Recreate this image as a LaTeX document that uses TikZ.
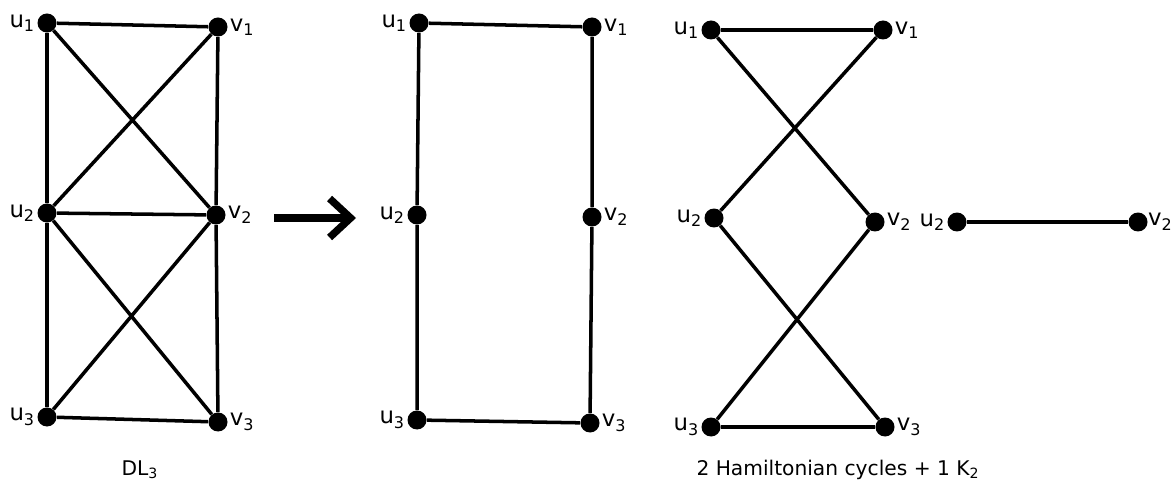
\documentclass[tikz,border=0pt]{standalone}
\usepackage{fontspec}
\setmainfont{DejaVu Sans}
\usetikzlibrary{arrows.meta}
\tikzset{
  vtx/.style={circle, fill=black, inner sep=0pt, minimum size=0.38cm},
  edg/.style={line width=2pt, draw=black},
  vlbl/.style={font=\fontsize{13}{15}\selectfont, inner sep=1pt},
  caption/.style={font=\fontsize{11.5}{14}\selectfont},
  bigarrow/.style={-{Straight Barb[length=0.42cm, width=0.78cm]}, line width=4.2pt},
}
\newcommand{\vname}[2]{#1\textsubscript{#2}}

\begin{document}
\begin{tikzpicture}[x=0.02cm, y=-0.02cm]
  \useasboundingbox (0,0) rectangle (1172,496);
  % DL_3
  \node[vtx, label={[vlbl]left:\vname{u}{1}}]  (au1) at (47,23)  {};
  \node[vtx, label={[vlbl]right:\vname{v}{1}}] (av1) at (218,27) {};
  \node[vtx, label={[vlbl]left:\vname{u}{2}}]  (au2) at (47,213) {};
  \node[vtx, label={[vlbl]right:\vname{v}{2}}] (av2) at (216,215) {};
  \node[vtx, label={[vlbl]left:\vname{u}{3}}]  (au3) at (47,417) {};
  \node[vtx, label={[vlbl]right:\vname{v}{3}}] (av3) at (218,422) {};
  \draw[edg] (au1) -- (av1) (au2) -- (av2) (au3) -- (av3);
  \draw[edg] (au1) -- (au2) -- (au3) (av1) -- (av2) -- (av3);
  \draw[edg] (au1) -- (av2) (av1) -- (au2) (au2) -- (av3) (av2) -- (au3);
  \node[caption] (dl) at (140,470) {DL\textsubscript{3}};

  % arrow
  \coordinate (arrS) at (274,218);
  \coordinate (arrE) at (356,218);
  \draw[bigarrow] (arrS) -- (arrE);

  % rectangle
  \node[vtx, label={[vlbl]left:\vname{u}{1}}]  (bu1) at (419,23)  {};
  \node[vtx, label={[vlbl]right:\vname{v}{1}}] (bv1) at (592,27)  {};
  \node[vtx, label={[vlbl]left:\vname{u}{2}}]  (bu2) at (417,215) {};
  \node[vtx, label={[vlbl]right:\vname{v}{2}}] (bv2) at (592,217) {};
  \node[vtx, label={[vlbl]left:\vname{u}{3}}]  (bu3) at (417,420) {};
  \node[vtx, label={[vlbl]right:\vname{v}{3}}] (bv3) at (590,423) {};
  \draw[edg] (bu1) -- (bv1) -- (bv2) -- (bv3) -- (bu3) -- (bu2) -- (bu1);

  % two hamiltonian cycles
  \node[vtx, label={[vlbl]left:\vname{u}{1}}]  (cu1) at (711,30)  {};
  \node[vtx, label={[vlbl]right:\vname{v}{1}}] (cv1) at (883,30)  {};
  \node[vtx, label={[vlbl]left:\vname{u}{2}}]  (cu2) at (714,218) {};
  \node[vtx, label={[vlbl]right:\vname{v}{2}}] (cv2) at (875,222) {};
  \node[vtx, label={[vlbl]left:\vname{u}{3}}]  (cu3) at (711,427) {};
  \node[vtx, label={[vlbl]right:\vname{v}{3}}] (cv3) at (885,427) {};
  \draw[edg] (cu1) -- (cv1) -- (cu2) -- (cv3) -- (cu3) -- (cv2) -- (cu1);

  % K_2
  \node[vtx, label={[vlbl]left:\vname{u}{2}}]  (du2) at (957,222)  {};
  \node[vtx, label={[vlbl, inner sep=0pt, label distance=0pt]right:\vname{v}{2}}] (dv2) at (1138,222) {};
  \draw[edg] (du2) -- (dv2);
  \node[caption] (hc) at (838,470) {2 Hamiltonian cycles + 1 K\textsubscript{2}};
\end{tikzpicture}
\end{document}
